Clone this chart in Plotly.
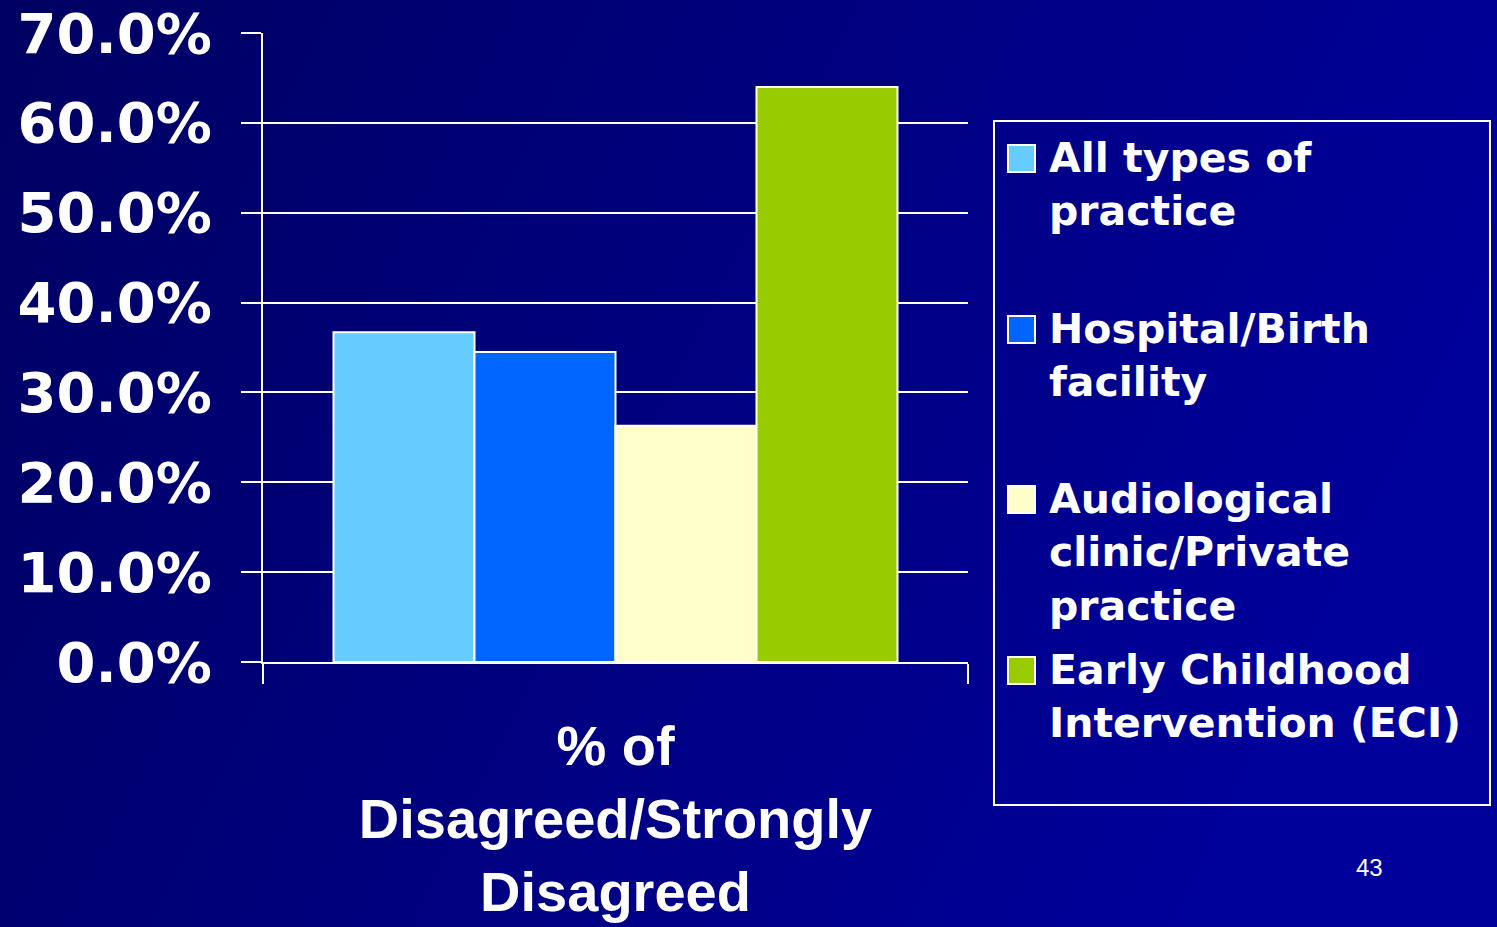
import base64
import plotly.graph_objects as go

# ---- data ----
category = ["% of<br>Disagreed/Strongly<br>Disagreed"]
series_names = [
    "All types of<br>practice",
    "Hospital/Birth<br>facility",
    "Audiological<br>clinic/Private<br>practice",
    "Early Childhood<br>Intervention (ECI)",
]
series_values = [36.7, 34.5, 26.3, 64.0]
series_colors = ["#66CCFF", "#0066FF", "#FFFFCC", "#99CC00"]
y_ticks = [0, 10, 20, 30, 40, 50, 60, 70]
y_tick_labels = ["0.0%", "10.0%", "20.0%", "30.0%", "40.0%", "50.0%", "60.0%", "70.0%"]
page_number = "43"

W, H = 1497, 927
L, R, T, B = 263, 968, 33, 662  # plot area in pixels


def px2x(px):
    return (px - L) / (R - L)


def px2y(py):
    return (B - py) / (B - T)


fig = go.Figure()
for name, val, col in zip(series_names, series_values, series_colors):
    fig.add_trace(go.Bar(
        x=category, y=[val], name=name.replace("<br>", " "),
        marker=dict(color=col, line=dict(color="white", width=2)),
        showlegend=False,
    ))

# background gradient
svg = ('<svg xmlns="http://www.w3.org/2000/svg" width="100" height="100" '
       'viewBox="0 0 100 100" preserveAspectRatio="none"><defs>'
       '<linearGradient id="g" x1="0" y1="0" x2="1" y2="0.3">'
       '<stop offset="0" stop-color="#000062"/>'
       '<stop offset="1" stop-color="#00009A"/></linearGradient></defs>'
       '<rect width="100" height="100" fill="url(#g)"/></svg>')
img_src = "data:image/svg+xml;base64," + base64.b64encode(svg.encode()).decode()

shapes = []
annotations = []
# legend box
shapes.append(dict(type="rect", xref="paper", yref="paper",
                   x0=px2x(994), x1=px2x(1490), y0=px2y(805), y1=px2y(121),
                   line=dict(color="white", width=2), fillcolor="rgba(0,0,0,0)",
                   layer="above"))
sym_tops = [145, 316, 486, 657]
for name, col, top in zip(series_names, series_colors, sym_tops):
    shapes.append(dict(type="rect", xref="paper", yref="paper",
                       x0=px2x(1008), x1=px2x(1035), y0=px2y(top + 27), y1=px2y(top),
                       line=dict(color="white", width=2), fillcolor=col, layer="above"))
    annotations.append(dict(
        text=name, xref="paper", yref="paper", x=px2x(1047), y=px2y(top - 13),
        xanchor="left", yanchor="top", align="left", showarrow=False,
        font=dict(family="DejaVu Sans", size=41, color="white", weight="bold"),
    ))

annotations.append(dict(
    text=page_number, xref="paper", yref="paper", x=px2x(1369), y=px2y(867),
    xanchor="center", yanchor="middle", showarrow=False,
    font=dict(family="Liberation Sans", size=24, color="white"),
))

fig.update_layout(
    width=W, height=H,
    margin=dict(l=L, r=W - R, t=T, b=H - B, pad=0, autoexpand=False),
    paper_bgcolor="#000080",
    plot_bgcolor="rgba(0,0,0,0)",
    barmode="group", bargap=0.2, bargroupgap=0,
    images=[dict(source=img_src, xref="paper", yref="paper",
                 x=px2x(0), y=px2y(0), sizex=W / (R - L), sizey=H / (B - T),
                 xanchor="left", yanchor="top", sizing="stretch", layer="below")],
    shapes=shapes,
    annotations=annotations,
    xaxis=dict(
        type="category", showline=True, linecolor="white", linewidth=2,
        ticks="outside", tickson="boundaries", ticklen=20, tickwidth=2, tickcolor="white",
        showgrid=False, automargin=False,
        tickfont=dict(family="Liberation Sans", size=56, color="white", weight="bold"),
        ticklabelstandoff=34,
    ),
    yaxis=dict(
        range=[0, 70], tickvals=y_ticks, ticktext=y_tick_labels,
        showline=True, linecolor="white", linewidth=2, automargin=False,
        ticks="outside", ticklen=20, tickwidth=2, tickcolor="white",
        showgrid=True, gridcolor="white", gridwidth=2, zeroline=False,
        tickfont=dict(family="DejaVu Sans", size=56, color="white", weight="bold"),
        ticklabelstandoff=18,
    ),
)

fig.write_html("out.html")
